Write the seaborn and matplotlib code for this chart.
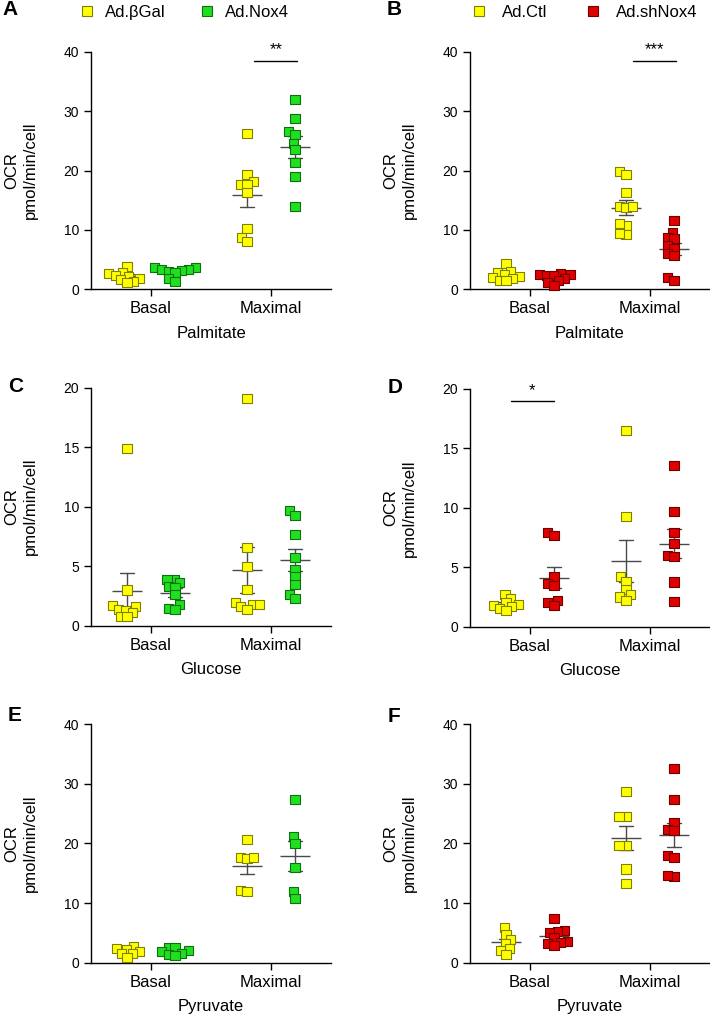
import numpy as np
import pandas as pd
import matplotlib
matplotlib.use('Agg')
import matplotlib.pyplot as plt
import seaborn as sns
from matplotlib.lines import Line2D
from matplotlib.colors import to_rgb
from matplotlib.transforms import Affine2D

# ---- data (OCR, pmol/min/cell) ----
conditions = ['Basal', 'Maximal']

# A: palmitate, Ad.βGal vs Ad.Nox4
a_ctl_basal = [3.9, 2.9, 2.6, 2.4, 2.2, 1.9, 1.6, 1.3, 1.1]
a_ctl_max = [26.2, 19.4, 18.1, 17.7, 17.6, 16.3, 10.3, 8.7, 8.0]
a_trt_basal = [3.7, 3.6, 3.4, 3.3, 3.1, 3.0, 2.8, 1.8, 1.3]
a_trt_max = [32.0, 28.7, 26.5, 26.0, 24.6, 23.5, 21.3, 19.0, 14.0]

# B: palmitate, Ad.Ctl vs Ad.shNox4
b_ctl_basal = [4.4, 3.0, 2.8, 2.5, 2.2, 2.0, 1.8, 1.5, 1.4]
b_ctl_max = [19.8, 19.4, 16.3, 13.9, 13.8, 13.9, 10.8, 11.0, 9.3, 9.4]
b_trt_basal = [2.6, 2.5, 2.5, 2.4, 2.3, 1.8, 1.5, 1.1, 0.6]
b_trt_max = [11.6, 9.6, 8.8, 8.5, 7.4, 6.9, 6.0, 5.7, 2.0, 1.5]

# C: glucose, Ad.βGal vs Ad.Nox4
c_ctl_basal = [14.9, 3.0, 1.7, 1.6, 1.4, 1.3, 1.1, 0.8, 0.75]
c_ctl_max = [19.1, 6.6, 5.0, 3.05, 1.96, 1.75, 1.6, 1.37, 1.75]
c_trt_basal = [3.9, 3.9, 3.6, 3.3, 3.2, 2.6, 1.8, 1.45, 1.35]
c_trt_max = [9.66, 9.3, 7.7, 5.7, 4.7, 4.1, 3.5, 2.6, 2.25]

# D: glucose, Ad.Ctl vs Ad.shNox4
d_ctl_basal = [2.7, 2.4, 2.0, 1.9, 1.8, 1.7, 1.5, 1.4]
d_ctl_max = [16.5, 9.26, 4.2, 3.84, 3.1, 2.67, 2.5, 2.24]
d_trt_basal = [7.94, 7.71, 4.2, 3.6, 3.5, 2.24, 2.05, 1.77]
d_trt_max = [13.6, 9.7, 7.9, 7.0, 6.0, 5.9, 3.76, 2.1]

# E: pyruvate, Ad.βGal vs Ad.Nox4
e_ctl_basal = [2.7, 2.4, 2.2, 1.9, 1.6, 1.5, 0.9]
e_ctl_max = [20.7, 17.65, 17.4, 17.65, 12.07, 11.9]
e_trt_basal = [2.6, 2.5, 2.0, 1.8, 1.6, 1.4, 1.2]
e_trt_max = [27.3, 21.1, 20.0, 16.0, 11.9, 10.8]

# F: pyruvate, Ad.Ctl vs Ad.shNox4
f_ctl_basal = [5.9, 4.8, 3.9, 3.24, 2.4, 2.1, 1.45]
f_ctl_max = [28.7, 24.5, 24.5, 19.7, 19.7, 15.7, 13.3]
f_trt_basal = [7.4, 5.36, 5.2, 5.0, 4.2, 3.6, 3.4, 3.2, 2.96]
f_trt_max = [32.6, 27.4, 23.5, 22.4, 22.1, 17.9, 17.7, 14.5, 14.6]

nox_labels = ['Ad.\u03b2Gal', 'Ad.Nox4']
sh_labels = ['Ad.Ctl', 'Ad.shNox4']
yellow = '#FFFF00'
green = '#1FE01F'
red = '#E00000'

sns.set_style('ticks')
plt.rcParams['font.family'] = ['Liberation Sans', 'DejaVu Sans']
plt.rcParams.update({'text.color': 'black', 'axes.labelcolor': 'black',
                     'xtick.color': 'black', 'ytick.color': 'black',
                     'axes.edgecolor': 'black'})

SWARM_SIZE = 4.0     # size used for the swarm layout (lets points overlap)
MARKER_SIZE = 6.5    # drawn square size


def darker(c, f=0.5):
    return tuple(np.array(to_rgb(c)) * f)


def draw_panel(ax, ctl_basal, ctl_max, trt_basal, trt_max, labels, colors,
               substrate, ymax, yticks):
    df = pd.DataFrame({
        'cond': ['Basal'] * len(ctl_basal) + ['Maximal'] * len(ctl_max)
                + ['Basal'] * len(trt_basal) + ['Maximal'] * len(trt_max),
        'group': [labels[0]] * (len(ctl_basal) + len(ctl_max))
                 + [labels[1]] * (len(trt_basal) + len(trt_max)),
        'ocr': ctl_basal + ctl_max + trt_basal + trt_max,
    })
    pal = dict(zip(labels, colors))
    sns.swarmplot(data=df, x='cond', y='ocr', hue='group', order=conditions,
                  hue_order=labels, dodge=True, palette=pal, marker='s',
                  size=SWARM_SIZE, linewidth=0.8, legend=False, ax=ax)
    k = MARKER_SIZE / SWARM_SIZE
    for coll in ax.collections:
        fc = coll.get_facecolor()
        if len(fc):
            coll.set_edgecolor(darker(fc[0][:3]))
        coll.set_paths([p.transformed(Affine2D().scale(k)) for p in coll.get_paths()])
        coll.set_clip_on(False)

    # mean +/- SEM
    sns.pointplot(data=df, x='cond', y='ocr', hue='group', order=conditions,
                  hue_order=labels, dodge=0.4, errorbar='se', capsize=0.12,
                  markers='_', markersize=21, markeredgewidth=1.0,
                  linestyle='none', palette=dict(zip(labels, ['#4a4a4a'] * 2)),
                  err_kws={'linewidth': 1.0}, legend=False, ax=ax)

    ax.set_xlim(-0.5, 1.5)
    ax.set_ylim(0, ymax)
    ax.set_yticks(yticks)
    ax.set_xlabel(substrate, fontsize=12, labelpad=7)
    ax.set_ylabel('OCR\npmol/min/cell', fontsize=12, linespacing=1.3)
    ax.yaxis.set_label_coords(-0.22, 0.5)
    ax.tick_params(axis='y', labelsize=10, length=5, width=1)
    ax.tick_params(axis='x', labelsize=12, length=5, width=1)
    for s in ['left', 'bottom']:
        ax.spines[s].set_linewidth(1)
    sns.despine(ax=ax)


def sig_bar(ax, x0, x1, y, ytxt, txt):
    ax.plot([x0, x1], [y, y], color='black', lw=1, clip_on=False)
    ax.text((x0 + x1) / 2, ytxt, txt, ha='center', va='center', fontsize=12,
            clip_on=False)


def add_legend(ax, labels, colors, x, y, textpad, colspace):
    handles = [Line2D([], [], marker='s', ls='', markerfacecolor=c,
                      markeredgecolor=darker(c), markeredgewidth=0.8,
                      markersize=MARKER_SIZE) for c in colors]
    ax.legend(handles, labels, loc='center left', bbox_to_anchor=(x, y),
              ncol=2, frameon=False, fontsize=12, handlelength=1,
              handletextpad=textpad, columnspacing=colspace, borderpad=0,
              borderaxespad=0)


fig = plt.figure(figsize=(7.1, 10.15), dpi=100)
W, H = 710, 1015


def add_ax(left, top, bottom, right):
    return fig.add_axes([left / W, 1 - bottom / H, (right - left) / W, (bottom - top) / H])


axA = add_ax(91, 51.7, 289.3, 331)
axB = add_ax(470, 51.7, 289.3, 710)
axC = add_ax(91, 387.7, 625.7, 331)
axD = add_ax(470, 389, 626.7, 710)
axE = add_ax(91, 724, 962.7, 331)
axF = add_ax(470, 724, 962.7, 710)

t40 = [0, 10, 20, 30, 40]
t20 = [0, 5, 10, 15, 20]
draw_panel(axA, a_ctl_basal, a_ctl_max, a_trt_basal, a_trt_max, nox_labels,
           [yellow, green], 'Palmitate', 40, t40)
draw_panel(axB, b_ctl_basal, b_ctl_max, b_trt_basal, b_trt_max, sh_labels,
           [yellow, red], 'Palmitate', 40, t40)
draw_panel(axC, c_ctl_basal, c_ctl_max, c_trt_basal, c_trt_max, nox_labels,
           [yellow, green], 'Glucose', 20, t20)
draw_panel(axD, d_ctl_basal, d_ctl_max, d_trt_basal, d_trt_max, sh_labels,
           [yellow, red], 'Glucose', 20, t20)
draw_panel(axE, e_ctl_basal, e_ctl_max, e_trt_basal, e_trt_max, nox_labels,
           [yellow, green], 'Pyruvate', 40, t40)
draw_panel(axF, f_ctl_basal, f_ctl_max, f_trt_basal, f_trt_max, sh_labels,
           [yellow, red], 'Pyruvate', 40, t40)

sig_bar(axA, 0.86, 1.22, 38.4, 40.3, '**')
sig_bar(axB, 0.86, 1.22, 38.4, 40.3, '***')
sig_bar(axD, -0.16, 0.20, 19.0, 19.9, '*')

add_legend(axA, nox_labels, [yellow, green], -0.05, 1.167, 0.55, 2.0)
add_legend(axB, sh_labels, [yellow, red], 0.003, 1.167, 0.9, 2.2)

for lab, x, y in [('A', 2, 0), ('B', 387, 0), ('C', 8, 377), ('D', 388, 378),
                  ('E', 8, 706), ('F', 388, 707)]:
    fig.text(x / W, 1 - y / H, lab, fontsize=15, fontweight='bold',
             ha='left', va='top')

fig.savefig('out.png', dpi=100)
